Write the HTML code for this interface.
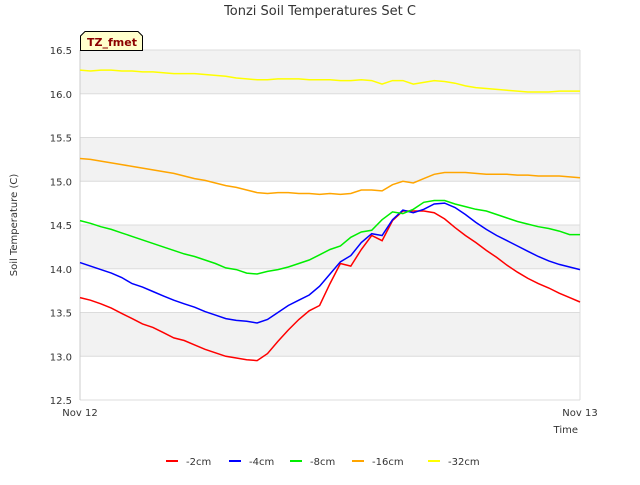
<!DOCTYPE html>
<html><head><meta charset="utf-8"><style>
body{margin:0;background:#fff;font-family:"Liberation Sans",sans-serif;}
svg text{font-family:"DejaVu Sans","Liberation Sans",sans-serif;}
</style></head><body>
<svg id="c" width="640" height="480" xmlns="http://www.w3.org/2000/svg">
<text x="320" y="15" text-anchor="middle" font-size="13" fill="#333">Tonzi Soil Temperatures Set C</text>
<g id="bands"></g><g id="grid"></g><g id="series"></g><g id="axes"></g>
<text transform="translate(17,225) rotate(-90)" text-anchor="middle" font-size="10" fill="#333">Soil Temperature (C)</text>
<text x="578" y="433" text-anchor="end" font-size="10" fill="#333">Time</text>
<g><path d="M80.5,50.5 V36 L85,31.5 H138 L142.5,36 V50.5 Z" fill="#ffffcc" stroke="#000"/><text x="87" y="46" font-size="11" font-weight="bold" fill="#8b0000">TZ_fmet</text></g>
<g id="legend"></g>
</svg>
<script>
const yTicks=[12.5,13.0,13.5,14.0,14.5,15.0,15.5,16.0,16.5];
const xTickLabels=["Nov 12","Nov 13"];
const seriesNames=["-2cm","-4cm","-8cm","-16cm","-32cm"];
const seriesColors=["#ff0000","#0000ff","#00ee00","#ffa500","#ffff00"];
const s2=[13.67,13.64,13.60,13.55,13.49,13.43,13.37,13.33,13.27,13.21,13.18,13.13,13.08,13.04,13.00,12.98,12.96,12.95,13.03,13.17,13.30,13.42,13.52,13.58,13.83,14.06,14.03,14.22,14.38,14.32,14.55,14.66,14.66,14.66,14.64,14.57,14.47,14.38,14.30,14.21,14.13,14.04,13.96,13.89,13.83,13.78,13.72,13.67,13.62];
const s4=[14.07,14.03,13.99,13.95,13.90,13.83,13.79,13.74,13.69,13.64,13.60,13.56,13.51,13.47,13.43,13.41,13.40,13.38,13.42,13.50,13.58,13.64,13.70,13.80,13.94,14.08,14.15,14.30,14.40,14.38,14.56,14.67,14.64,14.68,14.74,14.75,14.70,14.62,14.53,14.45,14.38,14.32,14.26,14.20,14.14,14.09,14.05,14.02,13.99];
const s8=[14.55,14.52,14.48,14.45,14.41,14.37,14.33,14.29,14.25,14.21,14.17,14.14,14.10,14.06,14.01,13.99,13.95,13.94,13.97,13.99,14.02,14.06,14.10,14.16,14.22,14.26,14.36,14.42,14.44,14.56,14.65,14.63,14.68,14.76,14.78,14.78,14.74,14.71,14.68,14.66,14.62,14.58,14.54,14.51,14.48,14.46,14.43,14.39,14.39];
const s16=[15.26,15.25,15.23,15.21,15.19,15.17,15.15,15.13,15.11,15.09,15.06,15.03,15.01,14.98,14.95,14.93,14.90,14.87,14.86,14.87,14.87,14.86,14.86,14.85,14.86,14.85,14.86,14.90,14.90,14.89,14.96,15.00,14.98,15.03,15.08,15.10,15.10,15.10,15.09,15.08,15.08,15.08,15.07,15.07,15.06,15.06,15.06,15.05,15.04];
const s32=[16.27,16.26,16.27,16.27,16.26,16.26,16.25,16.25,16.24,16.23,16.23,16.23,16.22,16.21,16.20,16.18,16.17,16.16,16.16,16.17,16.17,16.17,16.16,16.16,16.16,16.15,16.15,16.16,16.15,16.11,16.15,16.15,16.11,16.13,16.15,16.14,16.12,16.09,16.07,16.06,16.05,16.04,16.03,16.02,16.02,16.02,16.03,16.03,16.03];
const allSeries=[s2,s4,s8,s16,s32];
const X0=80,X1=580,Y0=400,Y1=50,VMIN=12.5,VMAX=16.5,HOURS=24;
const xs=h=>X0+(X1-X0)*h/HOURS;
const ys=v=>Y0-(Y0-Y1)*(v-VMIN)/(VMAX-VMIN);
const NS="http://www.w3.org/2000/svg";
function mk(t,p,parent){const e=document.createElementNS(NS,t);for(const k in p)e.setAttribute(k,p[k]);parent.appendChild(e);return e;}
const bands=document.getElementById('bands'),grid=document.getElementById('grid'),ser=document.getElementById('series'),axes=document.getElementById('axes'),leg=document.getElementById('legend');
for(let i=0;i<yTicks.length-1;i++){if(i%2==1){const r=mk('rect',{x:X0,y:ys(yTicks[i+1]),width:X1-X0,height:ys(yTicks[i])-ys(yTicks[i+1]),fill:'#f2f2f2'},bands);

}}
yTicks.forEach(v=>{const y=ys(v);
const l=mk('line',{x1:X0,x2:X1,y1:y,y2:y,stroke:'#dcdcdc'},grid);


const t=mk('text',{x:72,y:y+4,'text-anchor':'end','font-size':10,fill:'#333'},axes);t.textContent=v.toFixed(1);

});
const vl=mk('line',{x1:X0,x2:X0,y1:Y1,y2:Y0,stroke:'#ccc'},grid);


const vr=mk('line',{x1:X1,x2:X1,y1:Y1,y2:Y0,stroke:'#dcdcdc'},grid);


xTickLabels.forEach((s,i)=>{const t=mk('text',{x:xs(i*HOURS),y:416,'text-anchor':'middle','font-size':10,fill:'#333'},axes);t.textContent=s;

});
allSeries.forEach((arr,si)=>{const n=arr.length;const pts=arr.map((v,i)=>xs(i*HOURS/(n-1)).toFixed(1)+','+ys(v).toFixed(1)).join(' ');
const p=mk('polyline',{points:pts,fill:'none',stroke:seriesColors[si],'stroke-width':1.5},ser);

});
const legX=[166,229,290,352,428];
seriesNames.forEach((s,i)=>{const g=mk('g',{},leg);


mk('line',{x1:legX[i],x2:legX[i]+12,y1:461,y2:461,stroke:seriesColors[i],'stroke-width':2},g);
const t=mk('text',{x:legX[i]+20,y:465,'font-size':10,fill:'#333'},g);t.textContent=s;});
</script>
</body></html>
